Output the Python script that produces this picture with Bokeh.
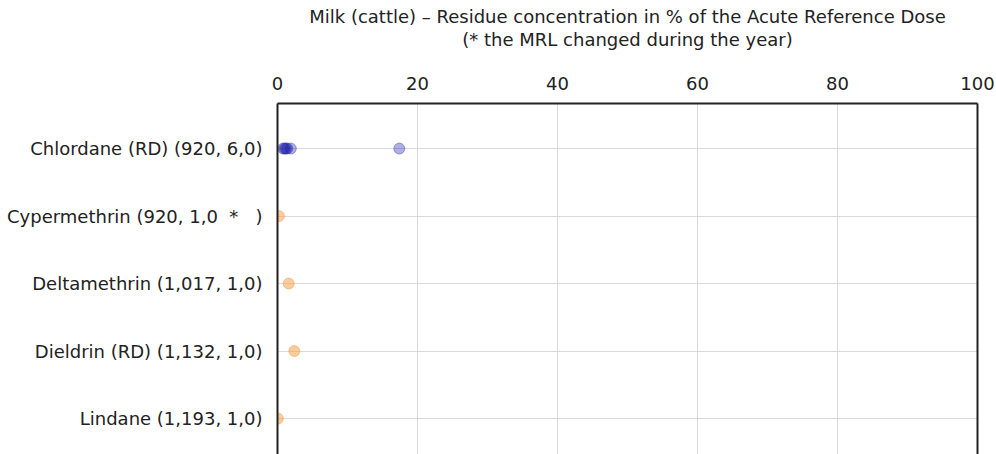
from bokeh.plotting import figure
from bokeh.models import Range1d, LinearAxis, FixedTicker, Title
from bokeh.embed import file_html
from bokeh.resources import INLINE

categories = ["Chlordane (RD) (920, 6,0)",
              "Cypermethrin (920, 1,0\u00a0\u00a0*\u00a0\u00a0\u00a0)",
              "Deltamethrin (1,017, 1,0)", "Dieldrin (RD) (1,132, 1,0)",
              "Lindane (1,193, 1,0)"]
blue_cat = [0, 0, 0, 0, 0, 0]
blue_val = [0.8, 1.0, 1.2, 1.4, 1.9, 17.4]
orange_cat = [1, 2, 3, 4]
orange_val = [0.2, 1.6, 2.4, 0.05]
x_ticks = [0, 20, 40, 60, 80, 100]
title_lines = ["Milk (cattle) \u2013 Residue concentration in % of the Acute Reference Dose",
               "(* the MRL changed during the year)"]

FONT = "DejaVu Sans"
FS = "18px"
TXT = "#222222"

p = figure(width=996, height=454, output_backend="svg", toolbar_location=None,
           x_range=Range1d(0, 100), y_range=Range1d(4.533, -0.667),
           x_axis_location="above", min_border_left=277, min_border_right=19,
           min_border_top=103, min_border_bottom=0)
p.outline_line_color = None

for t in reversed(title_lines):
    p.add_layout(Title(text=t, align="center", text_font=FONT, text_font_size=FS,
                       text_font_style="normal", text_color=TXT, standoff=0), "above")

xa = p.xaxis[0]
xa.ticker = FixedTicker(ticks=x_ticks)
xa.major_tick_line_color = None
xa.minor_tick_line_color = None
xa.axis_line_color = "#222222"
xa.axis_line_width = 2
xa.major_label_text_font = FONT
xa.major_label_text_font_size = FS
xa.major_label_text_color = TXT
xa.major_label_standoff = 8
xa.axis_label = "\u00a0"
xa.axis_label_text_font_size = "12px"
xa.axis_label_standoff = 7

ya = p.yaxis[0]
ya.ticker = FixedTicker(ticks=list(range(len(categories))))
ya.major_label_overrides = {i: c for i, c in enumerate(categories)}
ya.major_tick_line_color = None
ya.minor_tick_line_color = None
ya.axis_line_color = "#222222"
ya.axis_line_width = 2
ya.major_label_text_font = FONT
ya.major_label_text_font_size = FS
ya.major_label_text_color = TXT
ya.major_label_standoff = 9

ra = LinearAxis(ticker=FixedTicker(ticks=[]), axis_line_color="#222222", axis_line_width=2,
                major_tick_line_color=None, minor_tick_line_color=None,
                major_label_text_font_size="0px")
p.add_layout(ra, "right")

p.xgrid.ticker = FixedTicker(ticks=x_ticks)
p.xgrid.grid_line_color = "#d9d9d9"
p.ygrid.grid_line_color = "#d9d9d9"

p.scatter(blue_val, blue_cat, size=11, fill_color="#1a1aa6", fill_alpha=0.35,
          line_color="#1a1aa6", line_alpha=0.35)
p.scatter(orange_val, orange_cat, size=11, fill_color="#f5a04a", fill_alpha=0.55,
          line_color="#f5a04a", line_alpha=0.55)

open("out.html", "w").write(file_html(p, INLINE))
